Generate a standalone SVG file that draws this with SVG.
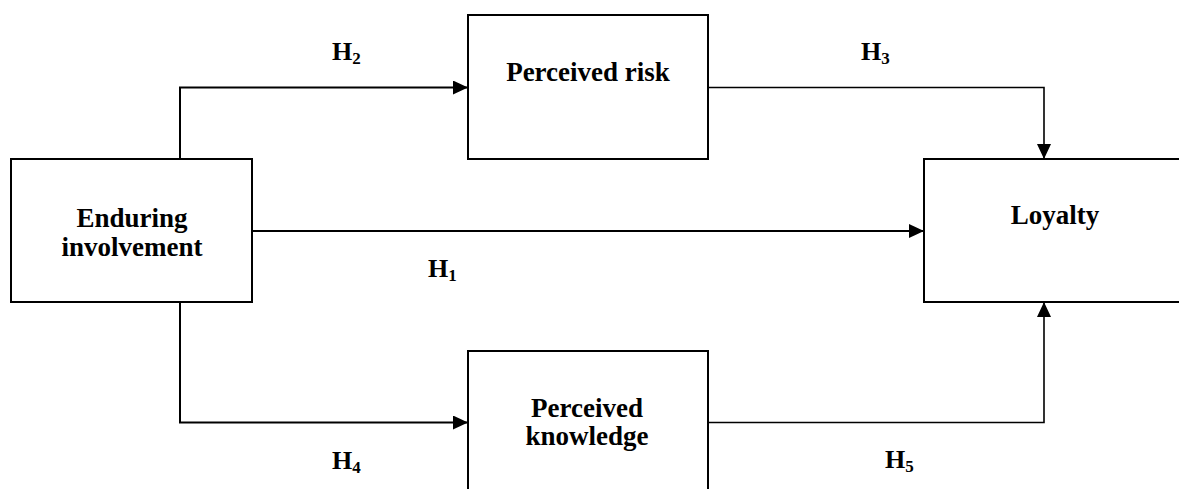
<svg xmlns="http://www.w3.org/2000/svg" width="1179" height="489" viewBox="0 0 1179 489">
<style>
.box{fill:#fff;stroke:#000;stroke-width:2}
.lbl{font-family:"Liberation Serif","Times New Roman",serif;font-weight:bold;font-size:27px;fill:#000;text-anchor:middle}
.h{font-family:"Liberation Serif","Times New Roman",serif;font-weight:bold;font-size:26px;fill:#000}
.sub{font-size:17px}
.c{fill:none;stroke:#000;stroke-width:2}
</style>
<defs>
<marker id="ah" markerWidth="15" markerHeight="14" refX="15" refY="7" orient="auto" markerUnits="userSpaceOnUse">
<path d="M0,0 L15,7 L0,14 Z" fill="#000"/>
</marker>
</defs>
<g id="connectors">
<path class="c" d="M180,159 V87.5 H468" marker-end="url(#ah)"/>
<path class="c" d="M708,87.5 H1044 V159" marker-end="url(#ah)" style="stroke-width:1.6"/>
<path class="c" d="M252,231 H924" marker-end="url(#ah)"/>
<path class="c" d="M180,302 V422.5 H468" marker-end="url(#ah)"/>
<path class="c" d="M708,422.5 H1044 V302" marker-end="url(#ah)" style="stroke-width:1.6"/>
</g>
<g id="labels">
<text class="h" x="332" y="60">H<tspan class="sub" dy="4">2</tspan></text>
<text class="h" x="861" y="60">H<tspan class="sub" dy="4">3</tspan></text>
<text class="h" x="428" y="277">H<tspan class="sub" dy="4">1</tspan></text>
<text class="h" x="332" y="469">H<tspan class="sub" dy="4">4</tspan></text>
<text class="h" x="885" y="468">H<tspan class="sub" dy="4">5</tspan></text>
</g>
<g id="enduring">
<rect class="box" x="11" y="159" width="241" height="143"/>
<text class="lbl" x="132" y="227">Enduring</text>
<text class="lbl" x="132" y="256">involvement</text>
</g>
<g id="risk">
<rect class="box" x="468" y="15" width="240" height="144"/>
<text class="lbl" x="588" y="81">Perceived risk</text>
</g>
<g id="knowledge">
<rect class="box" x="468" y="351" width="240" height="150"/>
<text class="lbl" x="587" y="417">Perceived</text>
<text class="lbl" x="587" y="445">knowledge</text>
</g>
<g id="loyalty">
<rect class="box" x="924" y="159" width="270" height="143"/>
<text class="lbl" x="1055" y="224">Loyalty</text>
</g>
</svg>
